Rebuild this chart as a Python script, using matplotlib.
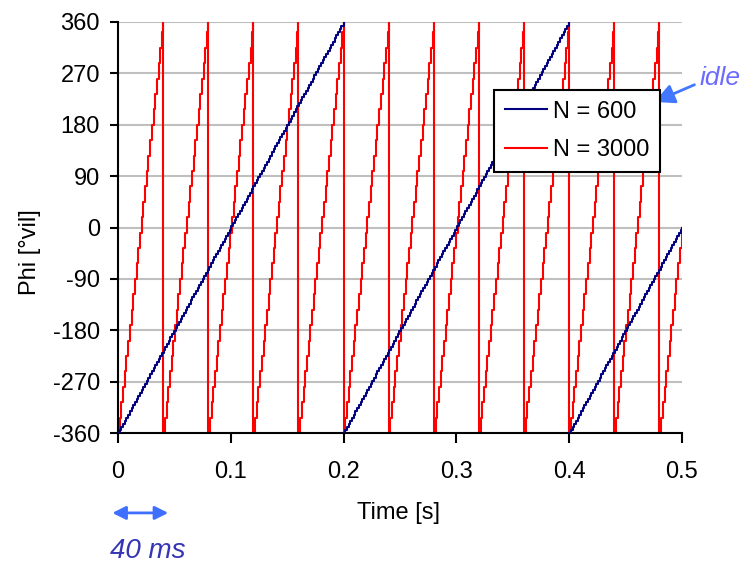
import numpy as np
import matplotlib
matplotlib.use('Agg')
import matplotlib.pyplot as plt

plt.rcParams['font.family'] = ['Liberation Sans', 'DejaVu Sans']
plt.rcParams['axes.unicode_minus'] = False

# Key points of the phase ramps (time [s], phase [deg]).
blue_wrap_t = [0.0, 0.2, 0.4]
red_wrap_t = [0.0, 0.04, 0.08, 0.12, 0.16, 0.20, 0.24, 0.28, 0.32, 0.36, 0.40, 0.44, 0.48]
blue_period = 0.2
red_period = 0.04
t_end = 0.5
phi_end = 0.0  # both traces stop at 0 deg at t = 0.5 s
sample_dt = 0.0015  # visible step width of the quantised phase

yticks = [-360, -270, -180, -90, 0, 90, 180, 270, 360]
xticks = [0, 0.1, 0.2, 0.3, 0.4, 0.5]
xticklabels = ['0', '0.1', '0.2', '0.3', '0.4', '0.5']


def staircase(wraps, period, join):
    # rebuild the sampled sawtooth: ramps -360 -> 360 starting at each wrap
    ts, ps = [], []
    for i, t0 in enumerate(wraps):
        t1 = wraps[i + 1] if i + 1 < len(wraps) else t_end
        n = int(round((t1 - t0) / sample_dt))
        tt = t0 + np.arange(n) * sample_dt
        pp = -360 + 720 * (tt - t0) / period
        ts.extend(tt)
        ps.extend(pp)
        if i + 1 < len(wraps):
            ts.append(t1)
            ps.append(360)
            if not join:
                ts.append(t1)
                ps.append(np.nan)
    ts.append(t_end)
    ps.append(phi_end)
    return np.array(ts), np.array(ps)


fig = plt.figure(figsize=(7.44, 5.63), dpi=100)
ax = fig.add_axes([118 / 744, 1 - 433 / 563, 564 / 744, 411 / 563])

tb, pb = staircase(blue_wrap_t, blue_period, join=False)
tr, pr = staircase(red_wrap_t, red_period, join=True)
ax.plot(tb, pb, color='#000080', lw=1.5, drawstyle='steps-post', label='N = 600', zorder=3)
ax.plot(tr, pr, color='#ff0000', lw=1.5, drawstyle='steps-post', label='N = 3000', zorder=2)

ax.set_xlim(0, 0.5)
ax.set_ylim(-360, 360)
ax.set_yticks(yticks)
ax.set_xticks(xticks)
ax.set_xticklabels(xticklabels)
ax.yaxis.grid(True, color='#bfbfbf', lw=1.5)
ax.set_axisbelow(True)
for s in ['top', 'right']:
    ax.spines[s].set_visible(False)
for s in ['left', 'bottom']:
    ax.spines[s].set_linewidth(1.5)
ax.tick_params(axis='x', direction='out', length=7, width=1.5, labelsize=17, pad=13)
ax.tick_params(axis='y', direction='out', length=6, width=1.5, labelsize=17, pad=7)
ax.set_xlabel('Time [s]', fontsize=17)
ax.set_ylabel('Phi [°vil]', fontsize=17)
ax.xaxis.set_label_coords(0.498, -0.167)
ax.yaxis.set_label_coords(-0.136, 0.44)

leg = ax.legend(loc='upper right', bbox_to_anchor=(0.961, 0.8345), fontsize=17,
                fancybox=False, framealpha=1, edgecolor='black', handlelength=1.8,
                handletextpad=0.25, borderaxespad=0, borderpad=0.45, labelspacing=0.7)
leg.get_frame().set_linewidth(1.5)

# annotations
ax.annotate('', xy=(0.4734, 218), xytext=(0.5133, 252), annotation_clip=False,
            arrowprops=dict(arrowstyle='-|>', color='#4477ff', lw=2, mutation_scale=30))
ax.text(0.516, 262, 'idle', color='#6b6bff', fontsize=19, style='italic',
        va='center', ha='left', clip_on=False)
ax.annotate('', xy=(-0.0075, -500), xytext=(0.047, -500), annotation_clip=False,
            arrowprops=dict(arrowstyle='<|-|>', color='#3f6fff', lw=2, mutation_scale=20))
ax.text(-0.007, -566, '40 ms', color='#3535b5', fontsize=20, style='italic',
        va='center', ha='left', clip_on=False)

fig.savefig('out.png', dpi=100)
